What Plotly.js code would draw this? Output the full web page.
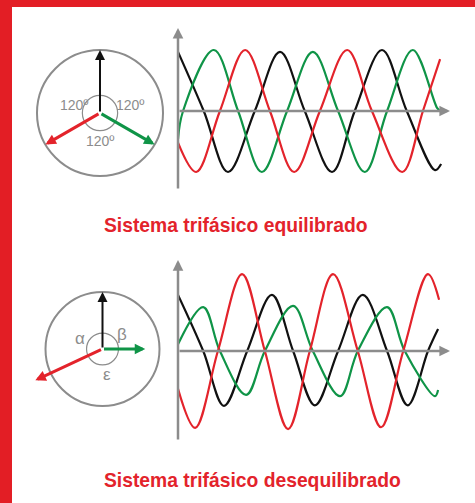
<!DOCTYPE html>
<html>
<head>
<meta charset="utf-8">
<script src="https://cdn.plot.ly/plotly-3.0.1.min.js"></script>
<style>
  html, body { margin: 0; padding: 0; background: #ffffff; }
  #chart { width: 475px; height: 503px; }
</style>
</head>
<body>
<div id="chart"></div>
<script>
// ---- Waveforms: time (ms) and per-unit values at peaks, troughs and zero crossings ----
// Balanced system
const balBlackT = [0, 5.1, 9.9, 15.2, 20.2, 25.1, 30.5, 35.0, 40.4, 45.3, 50.9, 52.1];
const balBlackV = [0.97, 0, -1, 0, 0.97, 0, -1, 0, 1, 0, -0.97, -0.87];
const balGreenT = [0, 1.0, 7.1, 11.9, 16.6, 21.6, 26.7, 31.7, 37.0, 41.4, 46.5, 51.3, 51.9];
const balGreenV = [-0.46, 0, 1, 0, -1, 0, 0.97, 0, -1, 0, 1, 0.05, 0];
const balRedT = [0, 3.6, 8.3, 13.3, 18.2, 23.0, 28.1, 33.5, 38.4, 44.4, 48.5, 51.9];
const balRedV = [-0.52, -1, 0, 1, 0, -1, 0, 1, 0, -1, 0, 0.85];

// Unbalanced system
const unbBlackT = [0, 5.0, 9.1, 13.7, 18.6, 22.8, 27.1, 31.7, 36.6, 41.4, 45.5, 49.5, 51.5];
const unbBlackV = [0.92, 0, -0.9, 0, 0.92, 0, -0.89, 0, 0.92, 0, -0.89, 0, 0.36];
const unbGreenT = [0, 5.0, 8.3, 13.5, 17.2, 22.8, 26.7, 32.1, 35.6, 41.4, 44.9, 50.9, 51.5];
const unbGreenV = [0.11, 0.72, 0, -0.72, 0, 0.74, 0, -0.74, 0, 0.72, 0, -0.74, -0.64];
const unbRedT = [0, 3.4, 7.9, 12.7, 17.2, 21.8, 26.1, 30.7, 35.6, 40.2, 44.6, 49.5, 51.7];
const unbRedV = [-0.62, -1.26, 0, 1.26, 0, -1.28, 0, 1.26, 0, -1.25, 0, 1.26, 0.84];

// ---- Phasors (order: black, red, green) ----
const balPhasorMag = [1, 1, 1];
const balPhasorAngle = [90, 210, 330];
const unbPhasorMag = [1, 1.3, 0.75];
const unbPhasorAngle = [90, 205, 0];

const balAngleLabels = ['120º', '120º', '120º'];
const unbAngleLabels = ['α', 'β', 'ε'];

const titles = ['Sistema trifásico equilibrado', 'Sistema trifásico desequilibrado'];

// ---- Styling ----
const BLACK = '#111111';
const RED = '#e3232b';
const GREEN = '#0f9447';
const GRAY = '#8c8c8c';
const phasorColors = [BLACK, RED, GREEN];
const phasorWidths = [2, 3, 3];
const phasorSizes = [1, 0.7, 0.7];

const W = 475, H = 503;
const px = v => v / W;          // horizontal pixel -> paper
const py = v => 1 - v / H;      // vertical pixel -> paper

function wave(t, v, color, xa, ya) {
  return {
    x: t, y: v, xaxis: xa, yaxis: ya, type: 'scatter', mode: 'lines',
    line: { color: color, width: 2.2, shape: 'spline', smoothing: 1 },
    hoverinfo: 'skip'
  };
}

const traces = [
  wave(balBlackT, balBlackV, BLACK, 'x', 'y'),
  wave(balGreenT, balGreenV, GREEN, 'x', 'y'),
  wave(balRedT, balRedV, RED, 'x', 'y'),
  wave(unbBlackT, unbBlackV, BLACK, 'x2', 'y2'),
  wave(unbGreenT, unbGreenV, GREEN, 'x2', 'y2'),
  wave(unbRedT, unbRedV, RED, 'x2', 'y2')
];

const hidden = { visible: false, fixedrange: true };
const tEnd = 53.86;

const layout = {
  width: W, height: H,
  margin: { l: 0, r: 0, t: 0, b: 0 },
  paper_bgcolor: '#ffffff',
  plot_bgcolor: 'rgba(0,0,0,0)',
  showlegend: false,
  xaxis:  Object.assign({}, hidden, { domain: [px(178), px(450)], range: [0, tEnd], anchor: 'y' }),
  yaxis:  Object.assign({}, hidden, { domain: [py(190), py(28)], range: [-1.295, 1.361], anchor: 'x' }),
  xaxis2: Object.assign({}, hidden, { domain: [px(178), px(450)], range: [0, tEnd], anchor: 'y2' }),
  yaxis2: Object.assign({}, hidden, { domain: [py(441), py(260)], range: [-1.475, 1.492], anchor: 'x2' }),
  xaxis3: Object.assign({}, hidden, { domain: [px(30), px(170)], range: [-1.111, 1.111], anchor: 'y3' }),
  yaxis3: Object.assign({}, hidden, { domain: [py(183), py(43)], range: [-1.111, 1.111], anchor: 'x3' }),
  xaxis4: Object.assign({}, hidden, { domain: [px(32.5), px(172.5)], range: [-1.228, 1.228], anchor: 'y4' }),
  yaxis4: Object.assign({}, hidden, { domain: [py(419), py(279)], range: [-1.228, 1.228], anchor: 'x4' }),
  shapes: [],
  annotations: []
};

// Red frame along the top and left edges
layout.shapes.push(
  { type: 'rect', xref: 'paper', yref: 'paper', x0: 0, x1: 1, y0: py(7), y1: 1,
    fillcolor: '#e31e25', line: { width: 0 }, layer: 'above' },
  { type: 'rect', xref: 'paper', yref: 'paper', x0: 0, x1: px(12), y0: 0, y1: 1,
    fillcolor: '#e31e25', line: { width: 0 }, layer: 'above' }
);

// Phasor circles
function circles(xr, yr, inner) {
  layout.shapes.push(
    { type: 'circle', xref: xr, yref: yr, x0: -1, x1: 1, y0: -1, y1: 1,
      line: { color: GRAY, width: 2 } },
    { type: 'circle', xref: xr, yref: yr, x0: -inner, x1: inner, y0: -inner, y1: inner,
      line: { color: GRAY, width: 1.2 } }
  );
}
circles('x3', 'y3', 0.28);
circles('x4', 'y4', 0.28);

// Phasor arrows
function phasors(mags, angles, xr, yr) {
  mags.forEach((m, i) => {
    const a = angles[i] * Math.PI / 180;
    layout.annotations.push({
      xref: xr, yref: yr, axref: xr, ayref: yr,
      x: m * Math.cos(a), y: m * Math.sin(a), ax: 0, ay: 0,
      text: '', showarrow: true, arrowhead: 2,
      arrowsize: phasorSizes[i], arrowwidth: phasorWidths[i],
      arrowcolor: phasorColors[i], standoff: 0, startstandoff: 0
    });
  });
}
phasors(balPhasorMag, balPhasorAngle, 'x3', 'y3');
phasors(unbPhasorMag, unbPhasorAngle, 'x4', 'y4');

// Angle labels
function angleLabels(labels, pos, xr, yr, size) {
  labels.forEach((txt, i) => {
    layout.annotations.push({
      xref: xr, yref: yr, x: pos[i][0], y: pos[i][1], text: txt, showarrow: false,
      xanchor: 'center', yanchor: 'middle',
      font: { family: 'Liberation Sans, Arial, sans-serif', size: size, color: GRAY }
    });
  });
}
angleLabels(balAngleLabels, [[-0.42, 0.13], [0.48, 0.13], [0, -0.44]], 'x3', 'y3', 14);
angleLabels(unbAngleLabels, [[-0.39, 0.19], [0.35, 0.25], [0.08, -0.44]], 'x4', 'y4', 17);

// Time axes and value axes with arrow tips
function axesArrows(xr, yr, yMin, yMax) {
  layout.annotations.push(
    { xref: xr, yref: yr, axref: xr, ayref: yr, x: 0, y: yMax, ax: 0, ay: yMin,
      text: '', showarrow: true, arrowhead: 2, arrowsize: 0.85, arrowwidth: 2.5,
      arrowcolor: GRAY, standoff: 0 },
    { xref: xr, yref: yr, axref: xr, ayref: yr, x: tEnd, y: 0, ax: 0, ay: 0,
      text: '', showarrow: true, arrowhead: 2, arrowsize: 0.85, arrowwidth: 2.5,
      arrowcolor: GRAY, standoff: 0 }
  );
}
axesArrows('x', 'y', -1.295, 1.361);
axesArrows('x2', 'y2', -1.475, 1.492);

// Section titles
[[titles[0], 225], [titles[1], 480]].forEach(([txt, yy]) => {
  layout.annotations.push({
    xref: 'paper', yref: 'paper', x: px(102), y: py(yy), xanchor: 'left', yanchor: 'middle',
    text: '<b>' + txt + '</b>', showarrow: false,
    font: { family: 'Liberation Sans, Arial, sans-serif', size: 19.3, color: '#e3232b' }
  });
});

Plotly.newPlot('chart', traces, layout, { staticPlot: true, displayModeBar: false });
</script>
</body>
</html>
